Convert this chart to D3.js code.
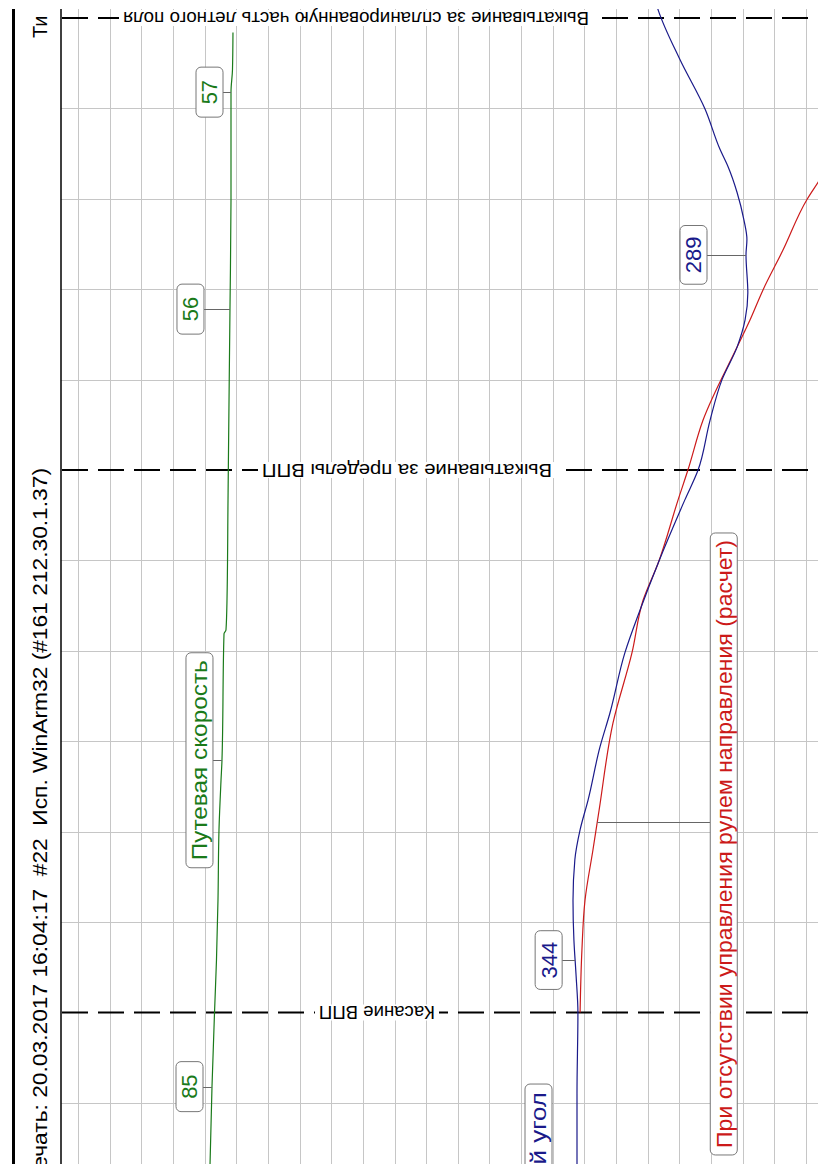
<!DOCTYPE html>
<html>
<head>
<meta charset="utf-8">
<script src="https://cdn.jsdelivr.net/npm/d3@7"></script>
<style>
  body { margin: 0; background: #fff; }
  svg { display: block; font-family: "Liberation Sans", Arial, sans-serif; }
</style>
</head>
<body>
<div id="chart"></div>
<script>
// time in seconds from touchdown (time axis runs bottom -> top)
var timeTicks = d3.range(-1, 12);
var gridColumns = d3.range(0, 24);

// event marks on the time axis
var eventTimes = [0, 6, 11];
var eventNames = ["Касание ВПП", "Выкатывание за пределы ВПП",
  "Выкатывание за спланированную часть летного поля"];

// heading, deg (blue)
var headingTime = [-1.9, -1.68, -0.9, 0, 0.41, 0.80, 1.24, 1.69, 2.02, 2.35, 2.94, 3.31, 3.98,
  4.45, 4.97, 5.67, 6.00, 6.55, 7.00, 7.36, 7.66, 7.96, 8.38, 8.55, 8.77, 9.07, 9.36,
  9.55, 9.99, 10.54, 11.09, 11.2];
var headingValues = [344.0, 344.0, 344.0, 343.7, 344.3, 345.0, 345.3, 344.7, 343.0, 340.4, 336.5, 333.3, 328.4,
  323.5, 317.6, 308.9, 304.6, 300.7, 296.8, 291.9, 289.3, 288.4, 289.0, 288.7, 289.7, 291.9, 294.9,
  297.5, 302.3, 310.5, 317.6, 318.6];

// heading without rudder control, calculated (red)
var calcTime = [0, 0.69, 1.24, 1.80, 2.24, 3.20, 3.98, 4.56, 4.97, 5.67, 6.00, 6.55, 7.36,
  7.66, 7.99, 8.43, 8.99, 9.18, 11.2];
var calcHeading = [343.0, 342.4, 341.4, 338.8, 336.8, 332.3, 326.1, 322.5, 317.6, 311.1, 307.9, 303.0, 291.9,
  287.7, 283.5, 277.0, 269.2, 265.6, 234.7];

// ground speed (green)
var speedTime = [-1.68, -0.82, 0, 0.58, 1.24, 2.02, 2.57, 2.79, 4.19, 4.23, 4.56, 5.67, 6.78,
  7.79, 8.99, 10.18, 10.43, 10.84];
var speedValues = [87.9, 85.0, 81.3, 78.4, 76.2, 74.7, 71.7, 70.3, 67.3, 64.4, 62.9, 61.4, 59.9,
  58.5, 57.0, 57.0, 54.8, 54.1];

// callout texts
var speedCallouts = ["57", "56", "85", "Путевая скорость"];
var headingCallouts = ["344", "289", "Курсовой угол"];
var calcCallouts = ["При отсутствии управления рулем направления (расчет)"];
var headerText = "Печать: 20.03.2017 16:04:17  #22  Исп. WinArm32 (#161 212.30.1.37)";
var headerTop = "Ти";

var width = 818, height = 1164,
    plot = {left: 61, top: 9, right: 818, bottom: 1164};

var timeY = d3.scaleLinear().domain([0, 11]).range([1012.5, 18]);
var gridX = d3.scaleLinear().domain([0, 23]).range([78, 806]);
var headingX = d3.scaleLinear().domain([344, 289]).range([577, 746]);
var speedX = d3.scaleLinear().domain([85, 57]).range([212, 231]);

var svg = d3.select("#chart").append("svg")
    .attr("width", width)
    .attr("height", height);

svg.append("defs").append("clipPath").attr("id", "plotClip")
  .append("rect")
    .attr("x", plot.left).attr("y", plot.top)
    .attr("width", plot.right - plot.left).attr("height", plot.bottom - plot.top);

// frame
svg.append("line")
    .attr("x1", 13.5).attr("x2", 13.5).attr("y1", plot.top).attr("y2", height)
    .attr("stroke", "#000").attr("stroke-width", 3);

// grid
var grid = svg.append("g").attr("class", "grid");
grid.selectAll("line.v").data(gridColumns).enter().append("line")
    .attr("class", "v")
    .attr("x1", function(d) { return Math.round(gridX(d)) + 0.5; })
    .attr("x2", function(d) { return Math.round(gridX(d)) + 0.5; })
    .attr("y1", plot.top).attr("y2", plot.bottom)
    .attr("stroke", "#c6c6c6");
grid.selectAll("line.h").data(timeTicks.filter(function(t) { return eventTimes.indexOf(t) < 0; }))
  .enter().append("line")
    .attr("class", "h")
    .attr("x1", plot.left).attr("x2", plot.right)
    .attr("y1", function(d) { return Math.round(timeY(d)) + 0.5; })
    .attr("y2", function(d) { return Math.round(timeY(d)) + 0.5; })
    .attr("stroke", "#c6c6c6");

svg.append("line")
    .attr("x1", plot.left).attr("x2", plot.left).attr("y1", plot.top).attr("y2", plot.bottom)
    .attr("stroke", "#000").attr("stroke-width", 1.5);

// event lines
var eventLabelX = [377, 407, 356],
    eventLabelLen = [116, 290, 466];
var ev = svg.append("g").attr("class", "events");
ev.selectAll("line").data(eventTimes).enter().append("line")
    .attr("x1", plot.left + 1).attr("x2", plot.right)
    .attr("y1", function(d) { return timeY(d); })
    .attr("y2", function(d) { return timeY(d); })
    .attr("stroke", "#000")
    .attr("stroke-width", 2)
    .attr("stroke-dasharray", "26,10");
var evLab = ev.selectAll("g.lab").data(eventTimes).enter().append("g")
    .attr("class", "lab")
    .attr("transform", function(d, i) {
      return "translate(" + eventLabelX[i] + "," + timeY(d) + ") rotate(180)";
    });
evLab.append("rect")
    .attr("x", function(d, i) { return -eventLabelLen[i] / 2 - 4; })
    .attr("y", -8)
    .attr("width", function(d, i) { return eventLabelLen[i] + 8; })
    .attr("height", 16)
    .attr("fill", "#fff");
evLab.append("text")
    .attr("text-anchor", "middle")
    .attr("dy", "0.35em")
    .attr("font-size", "18px")
    .attr("textLength", function(d, i) { return eventLabelLen[i]; })
    .attr("lengthAdjust", "spacingAndGlyphs")
    .attr("fill", "#000")
    .text(function(d, i) { return eventNames[i]; });

// series
var series = svg.append("g").attr("clip-path", "url(#plotClip)");

function drawSeries(times, values, xScale, color) {
  var pts = times.map(function(t, i) { return [xScale(values[i]), timeY(t)]; });
  series.append("path")
      .datum(pts)
      .attr("fill", "none")
      .attr("stroke", color)
      .attr("stroke-width", 1.2)
      .attr("d", d3.line().curve(d3.curveMonotoneY));
  return pts;
}

var speedInterp = d3.scaleLinear().domain(speedTime).range(speedValues);
var headingInterp = d3.scaleLinear().domain(headingTime).range(headingValues);
var calcInterp = d3.scaleLinear().domain(calcTime).range(calcHeading);

drawSeries(speedTime, speedValues, speedX, "#1a7a1a");
drawSeries(calcTime, calcHeading, headingX, "#cc1a1a");
drawSeries(headingTime, headingValues, headingX, "#1a1a8a");

// callouts: t = leader time, boxT = box centre time, gap = box edge distance from line
function callout(opt) {
  var lineX = opt.xScale(opt.interp(opt.t)),
      ly = timeY(opt.t),
      by = timeY(opt.boxT == null ? opt.t : opt.boxT),
      H = 27;
  var cx = opt.side > 0 ? lineX + opt.gap + H / 2 : lineX - opt.gap - H / 2;
  var g = svg.append("g").attr("class", "callout");
  g.append("line")
      .attr("x1", lineX).attr("x2", opt.side > 0 ? cx - H / 2 : cx + H / 2)
      .attr("y1", Math.round(ly) + 0.5).attr("y2", Math.round(ly) + 0.5)
      .attr("stroke", "#666");
  var lg = g.append("g").attr("transform", "translate(" + cx + "," + by + ") rotate(-90)");
  var rect = lg.append("rect");
  var txt = lg.append("text")
      .attr("text-anchor", "middle")
      .attr("dy", "0.36em")
      .attr("font-size", "22px")
      .attr("fill", opt.color)
      .text(opt.text);
  if (opt.len) txt.attr("textLength", opt.len).attr("lengthAdjust", "spacingAndGlyphs");
  var L = Math.max(opt.len || txt.node().getComputedTextLength(), 28) + 2 * (opt.pad || 11);
  rect.attr("x", -L / 2).attr("y", -H / 2).attr("width", L).attr("height", H)
      .attr("rx", 5).attr("ry", 5)
      .attr("fill", "#fff").attr("stroke", "#777");
}

var green = "#1a7a1a", blue = "#1a1a8a", red = "#cc1a1a";
callout({t: 10.18, text: speedCallouts[0], xScale: speedX, interp: speedInterp, color: green, side: -1, gap: 8});
callout({t: 7.78, text: speedCallouts[1], xScale: speedX, interp: speedInterp, color: green, side: -1, gap: 26});
callout({t: -0.82, text: speedCallouts[2], xScale: speedX, interp: speedInterp, color: green, side: -1, gap: 9});
callout({t: 2.79, text: speedCallouts[3], xScale: speedX, interp: speedInterp, color: green, side: -1, gap: 9, len: 200, pad: 7.5});
callout({t: 0.58, text: headingCallouts[0], xScale: headingX, interp: headingInterp, color: blue, side: -1, gap: 13});
callout({t: 8.38, text: headingCallouts[1], xScale: headingX, interp: headingInterp, color: blue, side: -1, gap: 39});
callout({t: -1.82, text: headingCallouts[2], xScale: headingX, interp: headingInterp, color: blue, side: -1, gap: 25, len: 170, pad: 8});
callout({t: 2.107, boxT: 1.864, text: calcCallouts[0], xScale: headingX, interp: calcInterp, color: red, side: 1, gap: 113, len: 608, pad: 7});

// header
svg.append("text")
    .attr("transform", "translate(40,468) rotate(-90)")
    .attr("text-anchor", "end")
    .attr("dy", "0.35em")
    .attr("font-size", "20px")
    .attr("textLength", 717)
    .attr("lengthAdjust", "spacingAndGlyphs")
    .style("white-space", "pre")
    .attr("fill", "#000")
    .text(headerText);
svg.append("text")
    .attr("transform", "translate(40,38) rotate(-90)")
    .attr("text-anchor", "start")
    .attr("dy", "0.35em")
    .attr("font-size", "20px")
    .attr("fill", "#000")
    .text(headerTop);
</script>
</body>
</html>
